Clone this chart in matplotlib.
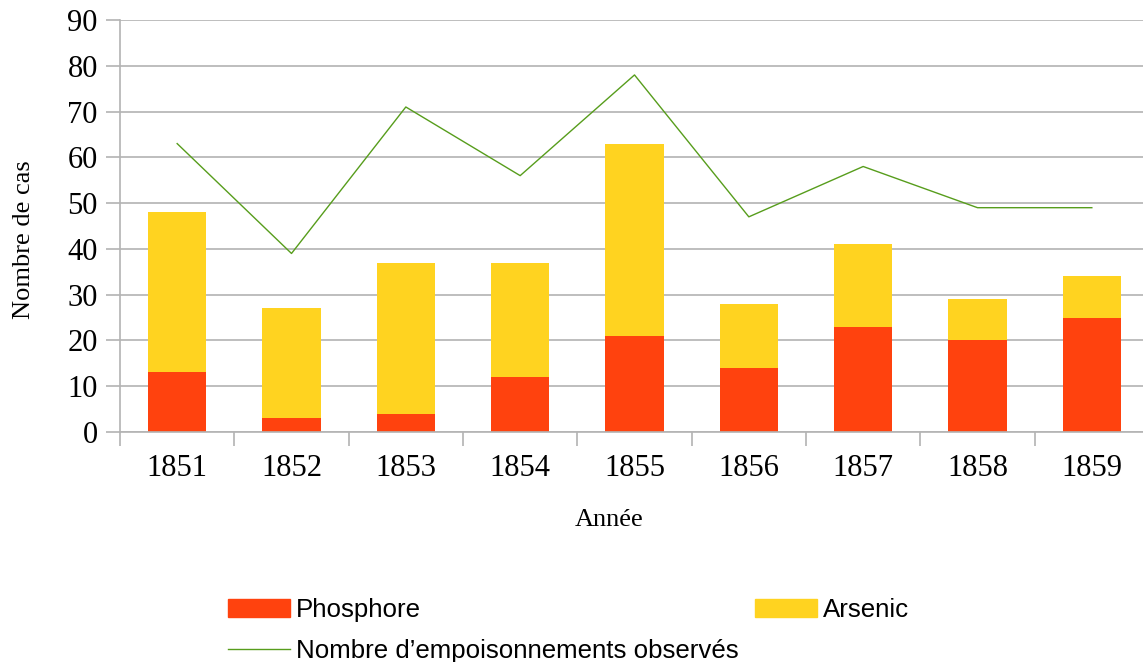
import numpy as np
import matplotlib.pyplot as plt
from matplotlib.patches import Patch
from matplotlib.lines import Line2D

annees = ['1851', '1852', '1853', '1854', '1855', '1856', '1857', '1858', '1859']
phosphore = [13, 3, 4, 12, 21, 14, 23, 20, 25]
arsenic = [35, 24, 33, 25, 42, 14, 18, 9, 9]
observes = [63, 39, 71, 56, 78, 47, 58, 49, 49]

c_phos = '#ff420e'
c_ars = '#ffd320'
c_line = '#579d1c'
grid_c = '#b3b3b3'

fig = plt.figure(figsize=(11.43, 6.62), dpi=100)
ax = fig.add_axes([120 / 1143, 230 / 662, 1029 / 1143, 412 / 662])

x = np.arange(len(annees))
ax.bar(x, phosphore, width=0.51, color=c_phos, zorder=2)
ax.bar(x, arsenic, width=0.51, bottom=phosphore, color=c_ars, zorder=2)
ax.plot(x, observes, color=c_line, linewidth=1, zorder=3)

ax.set_xlim(-0.5, len(annees) - 0.5)
ax.set_ylim(0, 90)
ax.set_yticks(range(0, 91, 10))
ax.yaxis.grid(True, color=grid_c, linewidth=1.2, zorder=0)
ax.set_axisbelow(True)

ax.set_xticks(x)
ax.set_xticklabels(annees)
ax.set_xticks(np.arange(-0.5, len(annees)), minor=True)
ax.tick_params(axis='x', which='major', length=0, pad=16)
ax.tick_params(axis='x', which='minor', length=10, color=grid_c, width=1.2)
ax.tick_params(axis='y', length=10, color=grid_c, width=1.2, pad=6)

for lab in ax.get_xticklabels() + ax.get_yticklabels():
    lab.set_fontfamily('Liberation Serif')
    lab.set_fontsize(22)

for s in ['top', 'right']:
    ax.spines[s].set_visible(False)
for s in ['left', 'bottom']:
    ax.spines[s].set_color(grid_c)
    ax.spines[s].set_linewidth(1.2)

ax.set_ylabel('Nombre de cas', fontfamily='Liberation Serif', fontsize=19)
ax.yaxis.set_label_coords(-0.083, 0.466)
ax.set_xlabel('Année', fontfamily='Liberation Serif', fontsize=19)
ax.xaxis.set_label_coords(0.475, -0.186)

handles = [Patch(color=c_phos, label='Phosphore'),
           Line2D([], [], color=c_line, linewidth=1, label='Nombre d\u2019empoisonnements observés'),
           Patch(color=c_ars, label='Arsenic')]
fig.legend(handles=handles, ncol=2, loc='upper left', bbox_to_anchor=(228 / 1143, 1 - 598 / 662),
           frameon=False, prop={'family': 'Liberation Sans', 'size': 18.6},
           handlelength=2.4, handleheight=0.66, handletextpad=0.23,
           columnspacing=0.62, labelspacing=0.64, borderpad=0, borderaxespad=0)

fig.savefig('out.png', dpi=100)
